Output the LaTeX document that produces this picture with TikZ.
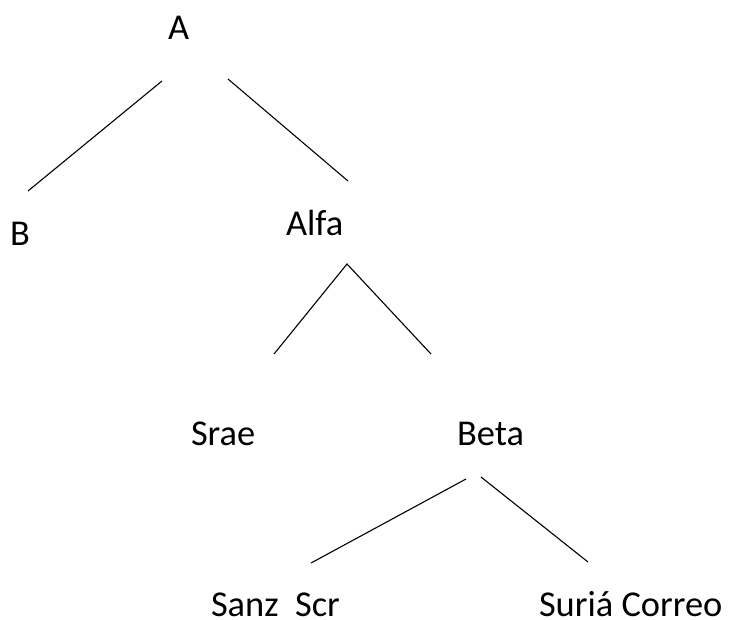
\documentclass[tikz,border=0pt]{standalone}
\usepackage{fontspec}
\setmainfont{Carlito}
\begin{document}
\begin{tikzpicture}[x=1pt,y=-1pt,
  lbl/.style={anchor=base west,inner sep=0pt,outer sep=0pt,text depth=0pt,font=\fontsize{36.4}{40}\selectfont},
  branch/.style={line width=1.1pt,black}]
\useasboundingbox (0,0) rectangle (730,619);
\node[lbl] (A) at (168,39) {A};
\node[lbl] (B) at (10,245) {B};
\node[lbl] (Alfa) at (286,235) {Alfa};
\node[lbl] (Srae) at (191,445) {Srae};
\node[lbl] (Beta) at (457,445) {Beta};
\node[lbl] (SanzScr) at (211,616) {Sanz\ \ Scr};
\node[lbl] (Suria) at (539,616) {Suriá Correo};
\coordinate (a1) at (162,81);
\coordinate (b1) at (28,191);
\coordinate (a2) at (228,79);
\coordinate (al1) at (348,181);
\coordinate (al2) at (347,264);
\coordinate (s1) at (274,354);
\coordinate (be1) at (431,354);
\coordinate (be2) at (466,479);
\coordinate (sz1) at (311,563);
\coordinate (be3) at (481,477);
\coordinate (su1) at (588,562);
\draw[branch] (a1) -- (b1);
\draw[branch] (a2) -- (al1);
\draw[branch] (s1) -- (al2) -- (be1);
\draw[branch] (be2) -- (sz1);
\draw[branch] (be3) -- (su1);
\end{tikzpicture}
\end{document}
